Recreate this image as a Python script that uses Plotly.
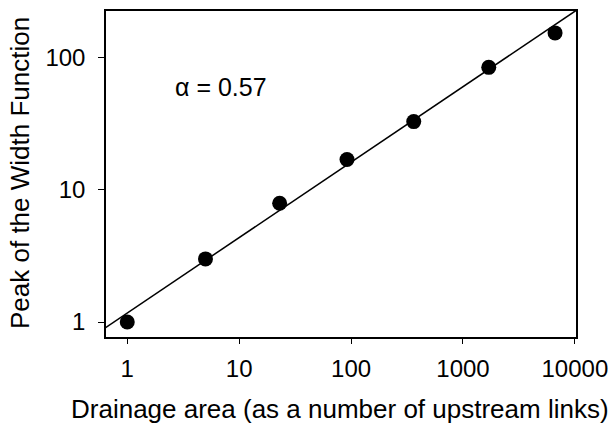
import numpy as np
import plotly.graph_objects as go

# Data
drainage_area = [1, 5, 23, 92, 363, 1700, 6650]
peak_width = [1.0, 3.0, 7.9, 16.9, 32.7, 84, 153]

# Fitted power law: peak = coef * area^alpha
alpha = 0.57
coef = 1.17
fit_range = [0.64, 10300]

x_ticks = [1, 10, 100, 1000, 10000]
x_tick_labels = ["1", "10", "100", "1000", "10000"]
y_ticks = [1, 10, 100]
y_tick_labels = ["1", "10", "100"]

fit_x = np.array(fit_range)
fit_y = coef * fit_x ** alpha

font_family = "Liberation Sans, Arial, Helvetica, sans-serif"
W, H = 612, 423
ML, MR, MT, MB = 106, 36, 11, 86
PW, PH = W - ML - MR, H - MT - MB

fig = go.Figure()
fig.add_trace(go.Scatter(x=fit_x, y=fit_y, mode="lines",
                         line=dict(color="black", width=1.5), showlegend=False))
fig.add_trace(go.Scatter(x=drainage_area, y=peak_width, mode="markers",
                         marker=dict(color="black", size=15), showlegend=False))

fig.add_annotation(x=(221 - ML) / PW, y=(H - MB - 87) / PH, xref="paper", yref="paper",
                   text=f"α = {alpha}", showarrow=False,
                   xanchor="center", yanchor="middle",
                   font=dict(size=25, color="black", family=font_family))

fig.add_annotation(x=(340 - ML) / PW, y=-(409 - (H - MB)) / PH, xref="paper", yref="paper",
                   text="Drainage area (as a number of upstream links)",
                   showarrow=False, xanchor="center", yanchor="middle",
                   font=dict(size=26, color="black", family=font_family))
fig.add_annotation(x=-(ML - 20) / PW, y=(H - MB - 173) / PH, xref="paper", yref="paper",
                   text="Peak of the Width Function", textangle=-90,
                   showarrow=False, xanchor="center", yanchor="middle",
                   font=dict(size=26, color="black", family=font_family))

fig.update_layout(
    width=W, height=H,
    margin=dict(l=ML, r=MR, t=MT, b=MB),
    plot_bgcolor="white", paper_bgcolor="white",
    font=dict(family=font_family, size=24, color="black"),
)
fig.update_xaxes(type="log", range=[-0.19, 4.01], automargin=False,
                 tickvals=x_ticks, ticktext=x_tick_labels,
                 ticks="outside", ticklen=5, tickwidth=1, tickcolor="black",
                 showline=True, linecolor="black", linewidth=1.5, mirror=True,
                 showgrid=False, zeroline=False, ticklabelstandoff=4)
fig.update_yaxes(type="log", range=[-0.113, 2.35], automargin=False,
                 tickvals=y_ticks, ticktext=y_tick_labels,
                 ticks="outside", ticklen=6, tickwidth=1, tickcolor="black",
                 showline=True, linecolor="black", linewidth=1.5, mirror=True,
                 showgrid=False, zeroline=False, ticklabelstandoff=8)

fig.write_html("out.html", post_script="document.body.style.margin='0';",
               config={"displayModeBar": False})
